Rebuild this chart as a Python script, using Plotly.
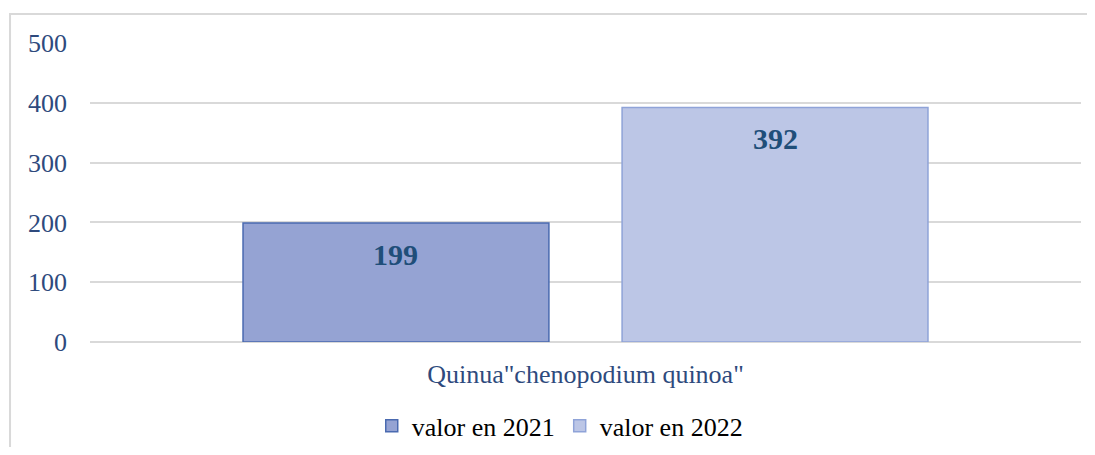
import plotly.graph_objects as go

categories = ['Quinua"chenopodium quinoa"']
series_names = ["valor en 2021", "valor en 2022"]
values_2021 = [199]
values_2022 = [392]
y_ticks = [0, 100, 200, 300, 400, 500]

serif = "Liberation Serif, Times New Roman, serif"
BARGAP = 0.235
BARGROUPGAP = 0.193

fig = go.Figure()
series = [(values_2021, "#95A3D3", "#4A6AB0"), (values_2022, "#BCC6E6", "#8FA3D8")]
for k, (vals, fill, edge) in enumerate(series):
    fig.add_trace(go.Bar(
        name=series_names[k], x=categories, y=vals,
        marker=dict(color=fill, line=dict(color=edge, width=1.5)),
    ))

# value labels placed near the top inside each bar (positions derived from bar layout)
n_series = len(series)
group_w = 1 - BARGAP
annotations = []
for k, (vals, _, _) in enumerate(series):
    for i, v in enumerate(vals):
        xpos = i - group_w / 2 + (k + 0.5) * group_w / n_series
        annotations.append(dict(
            x=xpos, y=v, xref="x", yref="y", text=f"<b>{v}</b>", showarrow=False,
            yanchor="middle", yshift=-31,
            font=dict(family=serif, size=30, color="#1F4E79"),
        ))

fig.update_layout(
    width=1079, height=439,
    margin=dict(l=82, r=6, t=35, b=105),
    paper_bgcolor="white", plot_bgcolor="white",
    barmode="group", bargap=BARGAP, bargroupgap=BARGROUPGAP,
    showlegend=True,
    legend=dict(orientation="h", x=0.474, xanchor="center",
                yref="container", y=0.048, yanchor="middle",
                font=dict(family=serif, size=26, color="#000000"),
                tracegroupgap=0),
    annotations=annotations,
    shapes=[dict(type="rect", xref="paper", yref="paper",
                 x0=-0.0807, x1=1.05, y0=1.097, y1=-0.5,
                 line=dict(color="#D9D9D9", width=2), layer="below")],
)
fig.update_yaxes(range=[0, 500], tickvals=y_ticks, showgrid=True,
                 gridcolor="#D9D9D9", gridwidth=1.5, zeroline=True,
                 zerolinecolor="#D9D9D9", zerolinewidth=1.5,
                 tickfont=dict(family=serif, size=26, color="#2E4A7D"),
                 ticklabelstandoff=22, showline=False)
fig.update_xaxes(showline=False, showgrid=False, range=[-0.5, 0.5],
                 tickfont=dict(family=serif, size=26, color="#2E4A7D"),
                 ticklabelstandoff=14)

fig.write_html("out.html")
